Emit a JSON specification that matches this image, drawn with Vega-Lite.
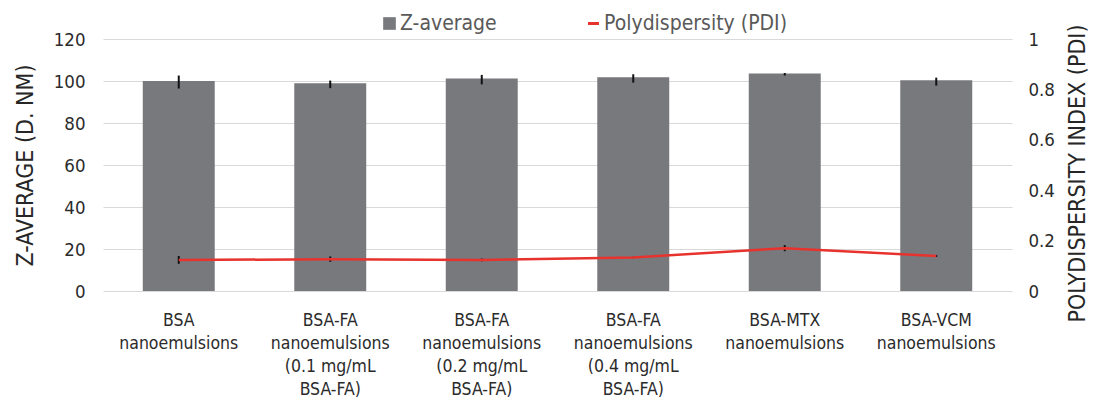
{
  "$schema": "https://vega.github.io/schema/vega-lite/v6.json",
  "width": 909,
  "height": 252,
  "autosize": {"type": "none"},
  "padding": {"left": 103, "top": 39, "right": 82, "bottom": 109},
  "config": {"font": "DejaVu Sans Condensed, DejaVu Sans", "view": {"stroke": null}},
  "data": {
    "values": [
      {"cat": "BSA|nanoemulsions", "z": 100.0, "z_lo": 96.4, "z_hi": 102.6, "pdi": 0.123, "pdi_lo": 0.108, "pdi_hi": 0.139},
      {"cat": "BSA-FA|nanoemulsions|(0.1 mg/mL|BSA-FA)", "z": 98.9, "z_lo": 96.6, "z_hi": 100.2, "pdi": 0.126, "pdi_lo": 0.116, "pdi_hi": 0.137},
      {"cat": "BSA-FA|nanoemulsions|(0.2 mg/mL|BSA-FA)", "z": 101.2, "z_lo": 98.4, "z_hi": 102.9, "pdi": 0.123, "pdi_lo": 0.118, "pdi_hi": 0.129},
      {"cat": "BSA-FA|nanoemulsions|(0.4 mg/mL|BSA-FA)", "z": 101.8, "z_lo": 99.2, "z_hi": 103.2, "pdi": 0.133, "pdi_lo": 0.130, "pdi_hi": 0.136},
      {"cat": "BSA-MTX|nanoemulsions", "z": 103.6, "z_lo": 102.6, "z_hi": 103.8, "pdi": 0.170, "pdi_lo": 0.158, "pdi_hi": 0.182},
      {"cat": "BSA-VCM|nanoemulsions", "z": 100.3, "z_lo": 97.8, "z_hi": 101.6, "pdi": 0.139, "pdi_lo": 0.135, "pdi_hi": 0.143}
    ]
  },
  "layer": [
    {
      "layer": [
        {
          "mark": {"type": "bar", "color": "#78797d"},
          "encoding": {
            "x": {
              "field": "cat", "type": "nominal", "sort": null,
              "scale": {"paddingInner": 0.525, "paddingOuter": 0.2625},
              "axis": {
                "title": null, "labelExpr": "split(datum.label, '|')", "labelAngle": 0,
                "labelFontSize": 17.5, "labelColor": "#2b2b2b", "labelLineHeight": 23,
                "labelPadding": 20, "ticks": false, "domain": false, "grid": false, "labelBaseline": "top"
              }
            },
            "y": {
              "field": "z", "type": "quantitative", "title": "Z-AVERAGE (D. NM)",
              "scale": {"domain": [0, 120]},
              "axis": {
                "values": [0, 20, 40, 60, 80, 100, 120], "grid": true, "gridColor": "#d9d9d9",
                "domain": false, "ticks": false, "labelFontSize": 18.5, "labelPadding": 18,
                "labelColor": "#2b2b2b", "titleFontSize": 23, "titleFontWeight": "normal",
                "titleColor": "#262626", "titlePadding": 16
              }
            },
            "fill": {
              "datum": "Z-average", "type": "nominal",
              "scale": {"range": ["#78797d"]},
              "legend": {
                "orient": "none", "legendX": 276, "legendY": -26, "title": null,
                "symbolType": "square", "symbolSize": 160, "symbolStrokeWidth": 0,
                "labelFontSize": 21, "labelColor": "#595959", "labelOffset": 0, "labelLimit": 0
              }
            }
          }
        },
        {
          "mark": {"type": "rule", "color": "#111111", "strokeWidth": 2},
          "encoding": {
            "x": {"field": "cat", "type": "nominal", "sort": null},
            "y": {"field": "z_lo", "type": "quantitative", "title": "Z-AVERAGE (D. NM)"},
            "y2": {"field": "z_hi"}
          }
        }
      ]
    },
    {
      "layer": [
        {
          "mark": {"type": "rule", "color": "#111111", "strokeWidth": 2},
          "encoding": {
            "x": {"field": "cat", "type": "nominal", "sort": null},
            "y": {"field": "pdi_lo", "type": "quantitative", "title": "POLYDISPERSITY INDEX (PDI)"},
            "y2": {"field": "pdi_hi"}
          }
        },
        {
          "mark": {"type": "line", "strokeWidth": 2.5},
          "encoding": {
            "x": {"field": "cat", "type": "nominal", "sort": null},
            "y": {
              "field": "pdi", "type": "quantitative", "title": "POLYDISPERSITY INDEX (PDI)",
              "scale": {"domain": [0, 1]},
              "axis": {
                "orient": "right", "values": [0, 0.2, 0.4, 0.6, 0.8, 1], "format": "~g",
                "grid": false, "domain": false, "ticks": false, "labelFontSize": 18.5,
                "labelPadding": 16, "labelColor": "#2b2b2b", "titleFontSize": 23,
                "titleFontWeight": "normal", "titleColor": "#262626", "titlePadding": 12,
                "titleAngle": 270, "titleBaseline": "top", "titleY": 134
              }
            },
            "stroke": {
              "datum": "Polydispersity (PDI)", "type": "nominal",
              "scale": {"range": ["#e8322d"]},
              "legend": {
                "orient": "none", "legendX": 480, "legendY": -26, "title": null,
                "symbolType": "stroke", "symbolSize": 121, "symbolStrokeWidth": 3,
                "labelFontSize": 21, "labelColor": "#595959", "labelOffset": 0, "labelLimit": 0
              }
            }
          }
        }
      ]
    }
  ],
  "resolve": {"scale": {"y": "independent"}}
}
